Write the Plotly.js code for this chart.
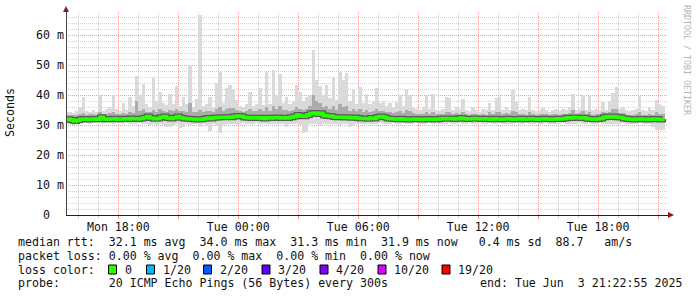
<!DOCTYPE html>
<html><head><meta charset="utf-8">
<script src="https://cdn.plot.ly/plotly-3.0.1.min.js"></script>
<style>html,body{margin:0;padding:0;background:#fff;}#chart{width:697px;height:297px;}</style>
</head><body><div id="chart"></div>
<script>
// sampling: every 10 minutes from Mon 15:25
const startTime = [2025, 5, 2, 15, 25];
const stepMinutes = 10;

const medianRtt = [
31.9,31.7,31.3,31.6,31.9,32.0,31.8,31.9,32.0,31.9,
32.6,32.0,31.9,32.0,32.1,31.9,32.0,32.1,32.0,32.2,
32.1,32.0,32.2,32.4,32.8,32.3,32.1,32.2,32.6,32.8,
32.3,32.2,32.4,32.8,32.4,32.2,32.1,32.0,31.9,31.8,
31.9,32.1,32.3,32.2,32.4,32.5,32.6,32.6,32.7,32.6,
32.8,33.0,32.9,32.5,32.4,32.3,32.4,32.3,32.4,32.2,
32.4,32.3,32.4,32.5,32.3,32.4,32.3,32.6,32.8,33.3,
33.0,32.9,33.3,33.8,34.0,33.7,33.9,33.2,33.0,32.9,
32.7,32.6,32.6,32.5,32.6,32.4,32.5,32.3,32.2,32.2,
32.1,32.3,32.2,32.7,32.8,32.6,32.2,32.1,32.0,31.9,
32.1,31.9,31.8,31.9,32.0,31.9,31.8,31.9,32.0,31.9,
31.8,31.9,32.1,32.2,32.1,32.2,32.0,32.1,32.3,32.1,
32.0,32.1,32.2,32.1,32.0,32.1,32.0,31.9,32.1,32.0,
31.9,32.0,32.1,32.0,31.9,32.0,32.1,31.9,32.0,32.1,
32.0,31.9,32.0,32.1,32.0,31.9,32.0,32.1,32.0,32.2,
32.4,32.3,32.5,32.4,32.3,32.4,32.1,32.0,31.9,32.0,
32.2,32.6,32.8,32.7,32.8,32.6,32.5,32.2,32.0,31.9,
31.8,31.9,32.0,31.9,31.8,31.9,32.0,31.9,31.8,31.9];

const maxRtt = [
34.2,34.5,34.0,34.8,36.0,39.3,34.6,34.2,35.0,34.5,
40.0,34.8,35.2,36.0,40.0,35.5,34.6,37.4,35.0,39.4,
36.5,46.5,40.0,43.6,37.0,36.0,45.9,38.0,41.1,37.5,
36.8,40.5,37.0,43.0,36.5,39.4,37.0,50.0,36.0,38.6,
66.7,36.5,37.0,39.4,36.0,44.0,47.8,37.5,42.3,43.3,
42.0,38.3,36.5,36.0,37.0,41.1,36.5,37.0,42.3,36.8,
47.8,37.0,48.3,40.0,47.0,37.5,39.4,37.0,38.0,43.3,
41.1,38.0,39.4,40.0,55.0,45.0,43.0,40.0,43.3,39.0,
45.9,38.5,47.8,45.0,47.2,38.0,41.7,37.0,42.7,37.5,
40.3,37.0,38.0,42.2,37.5,38.0,36.5,37.5,36.0,37.8,
40.0,36.5,41.9,40.0,36.1,35.5,35.0,36.0,40.0,35.5,
40.3,35.0,34.8,35.5,39.2,38.9,35.0,36.1,35.2,38.6,
35.0,34.6,36.0,35.0,34.5,35.2,35.0,37.3,35.0,38.9,
39.2,35.0,36.0,35.0,41.7,37.8,35.0,35.5,35.0,39.2,
35.0,34.6,35.0,35.7,35.0,34.5,35.0,35.3,34.8,35.5,
35.0,36.0,40.3,35.0,35.5,40.0,35.0,39.7,35.0,35.5,
35.0,37.8,35.0,38.0,40.8,42.6,35.5,36.0,35.0,34.6,
35.0,35.3,39.6,35.0,34.8,36.0,35.0,38.3,37.0,36.5];

const minRtt = [
30.8,30.3,30.0,30.5,30.8,30.6,30.7,30.5,30.8,30.6,
30.7,30.5,30.8,30.6,30.4,30.7,30.6,30.5,30.7,30.3,
30.5,30.2,30.6,30.4,30.5,30.0,30.3,30.1,30.4,30.0,
29.4,29.5,29.8,30.2,28.9,29.2,30.3,30.0,30.5,30.2,
29.4,30.3,30.0,28.1,30.2,29.8,27.3,30.0,30.3,30.5,
30.4,30.3,30.5,30.6,30.4,30.5,30.3,30.6,30.4,30.5,
30.4,30.2,30.5,30.3,30.4,30.2,29.4,30.3,30.5,30.2,
30.0,27.3,27.8,30.2,30.5,30.3,30.0,30.4,30.5,30.3,
30.2,30.4,30.0,30.3,30.5,29.4,29.6,30.3,30.5,30.4,
30.3,30.5,30.4,30.2,30.6,30.4,30.5,30.3,30.6,30.4,
30.5,30.6,30.3,30.5,30.4,30.6,30.5,30.3,30.5,30.6,
30.4,30.6,30.5,30.3,30.5,30.6,30.4,30.5,30.6,30.4,
30.5,30.6,30.4,30.5,30.6,30.3,30.5,30.6,30.4,30.5,
30.6,30.4,30.5,30.3,30.5,30.6,30.4,30.5,30.6,30.4,
30.5,30.6,30.4,30.5,30.6,30.4,30.5,30.3,30.5,30.6,
30.4,30.5,30.3,30.5,30.6,30.4,30.5,30.6,30.4,30.5,
30.6,30.3,30.5,30.4,30.2,30.4,30.5,30.6,30.4,30.5,
30.5,30.4,30.6,30.3,30.5,30.2,29.5,28.3,28.3,28.5];

const upperRtt = [
33.5,33.4,33.2,33.5,33.6,34.0,33.5,33.6,33.8,33.5,
34.5,33.6,33.7,34.0,34.2,33.8,33.6,34.0,33.8,34.3,
34.0,38.0,34.8,35.5,34.5,34.2,35.0,34.5,35.2,34.8,
34.5,35.0,34.6,35.5,34.6,34.8,34.5,37.3,34.2,34.5,
35.0,34.3,34.6,34.8,34.5,35.5,36.0,34.8,35.5,35.8,
35.6,35.0,34.8,34.5,34.8,35.2,34.6,34.8,35.5,34.7,
36.0,34.8,36.5,35.3,36.2,34.9,35.0,34.8,35.0,36.0,
35.5,35.0,35.5,36.5,40.0,38.0,37.5,36.0,36.5,35.3,
36.5,35.0,37.0,36.0,36.5,34.8,35.5,34.6,35.2,34.5,
35.0,34.5,34.6,35.5,34.8,34.6,34.2,34.4,34.0,34.3,
34.8,34.0,35.0,34.6,34.0,33.8,33.6,33.8,34.4,33.7,
34.5,33.6,33.6,33.8,34.4,34.2,33.6,33.9,33.6,34.2,
33.6,33.5,33.8,33.6,33.4,33.6,33.5,34.2,33.6,34.3,
34.4,33.6,33.9,33.6,34.8,34.2,33.6,33.8,33.5,34.3,
33.6,33.4,33.6,33.8,33.6,33.4,33.6,33.7,33.5,33.8,
33.8,34.0,35.0,33.8,34.0,34.8,33.6,34.5,33.5,33.8,
33.8,34.5,34.0,34.5,35.2,35.5,34.0,33.9,33.5,33.4,
33.5,33.6,34.4,33.5,33.4,33.8,33.5,34.2,33.8,33.6];

const xTickVals = ['2025-06-02 18:00','2025-06-02 21:00','2025-06-03 00:00','2025-06-03 03:00','2025-06-03 06:00',
  '2025-06-03 09:00','2025-06-03 12:00','2025-06-03 15:00','2025-06-03 18:00','2025-06-03 21:00'];
const xTickText = ['Mon 18:00','','Tue 00:00','','Tue 06:00','','Tue 12:00','','Tue 18:00',''];
const yTickVals = [0,10,20,30,40,50,60];
const yTickText = ['0  ','10 m','20 m','30 m','40 m','50 m','60 m'];

const lossLabels = ['0','1/20','2/20','3/20','4/20','10/20','19/20'];
const lossColors = ['#26ff00','#00b8ff','#0059ff','#5e00ff','#7e00ff','#dd00ff','#ff0000'];

const statLines = [
  'median rtt:  32.1 ms avg  34.0 ms max  31.3 ms min  31.9 ms now   0.4 ms sd  88.7   am/s',
  'packet loss: 0.00 % avg  0.00 % max  0.00 % min  0.00 % now',
  'loss color:',
  'probe:       20 ICMP Echo Pings (56 Bytes) every 300s'
];
const endText = 'end: Tue Jun  3 21:22:55 2025';

// ---- build ----
const t0 = Date.UTC(startTime[0], startTime[1], startTime[2], startTime[3], startTime[4]);
const times = medianRtt.map((_, k) => new Date(t0 + k * stepMinutes * 60000).toISOString().slice(0, 19));

const nb = s => s.replace(/ /g, '\u00a0');
const L = 66, R = 668, T = 12, B = 215;
const px = x => (x - L) / (R - L);
const py = y => (B - y) / (B - T);
const mono = 'DejaVu Sans Mono';

const traces = [
  { type: 'bar', x: times, base: minRtt, y: maxRtt.map((v, i) => v - minRtt[i]),
    width: stepMinutes * 60000, marker: { color: '#dadada', line: { width: 0 } }, hoverinfo: 'skip' },
  { type: 'bar', x: times, base: medianRtt, y: upperRtt.map((v, i) => v - medianRtt[i]),
    width: stepMinutes * 60000, marker: { color: '#ababab', line: { width: 0 } }, hoverinfo: 'skip' },
  { type: 'scatter', mode: 'lines', x: times, y: medianRtt, line: { color: '#5a5a5a', width: 6, shape: 'hv' }, hoverinfo: 'skip' },
  { type: 'scatter', mode: 'lines', x: times, y: medianRtt, line: { color: '#1a1a1a', width: 1, shape: 'hv' }, hoverinfo: 'skip' },
  { type: 'scatter', mode: 'lines', x: times, y: medianRtt, line: { color: lossColors[0], width: 3.5, shape: 'hv' }, hoverinfo: 'skip' }
];

const annotations = [];
// y tick labels, placed on the y scale
yTickVals.forEach((v, i) => annotations.push({
  xref: 'paper', yref: 'y', x: px(65), y: v, xanchor: 'right', yanchor: 'middle', borderpad: 0,
  text: nb(yTickText[i]), showarrow: false, font: { family: mono, size: 11.6, color: '#111' }
}));

const rowY = [241.7, 255.5, 269.5, 283.3];
statLines.forEach((s, i) => annotations.push({
  xref: 'paper', yref: 'paper', x: px(16), y: py(rowY[i]), xanchor: 'left', yanchor: 'middle',
  text: nb(s), showarrow: false, font: { family: mono, size: 11.6, color: '#111' }
}));
annotations.push({ xref: 'paper', yref: 'paper', x: px(478), y: py(rowY[3]), xanchor: 'left', yanchor: 'middle',
  text: nb(endText), showarrow: false, font: { family: mono, size: 11.6, color: '#111' } });

const boxX = [108.5, 146.5, 203.5, 262, 320, 378, 442];
const shapes = [];
lossLabels.forEach((lab, i) => {
  shapes.push({ type: 'rect', xref: 'paper', yref: 'paper', x0: px(boxX[i]), x1: px(boxX[i] + 8),
    y0: py(rowY[2] + 4.5), y1: py(rowY[2] - 4.5), fillcolor: lossColors[i], line: { color: '#000', width: 1 } });
  annotations.push({ xref: 'paper', yref: 'paper', x: px(boxX[i] + 14), y: py(rowY[2]), xanchor: 'left', yanchor: 'middle',
    text: nb(lab), showarrow: false, font: { family: mono, size: 11.6, color: '#111' } });
});

annotations.push({ xref: 'paper', yref: 'paper', x: px(10), y: py(113), xanchor: 'center', yanchor: 'middle',
  text: 'Seconds', textangle: -90, showarrow: false, font: { family: mono, size: 11.6, color: '#111' } });
annotations.push({ xref: 'paper', yref: 'paper', x: px(687), y: py(60), xanchor: 'center', yanchor: 'middle',
  text: nb('RRDTOOL / TOBI OETIKER'), textangle: 90, showarrow: false, font: { family: mono, size: 8.3, color: '#b4b4b4' } });

// axis arrows and y axis line
shapes.push({ type: 'path', xref: 'paper', yref: 'paper',
  path: `M ${px(63)} ${py(12)} L ${px(69)} ${py(12)} L ${px(66)} ${py(6)} Z`, fillcolor: '#8b1a1a', line: { width: 0 } });
shapes.push({ type: 'path', xref: 'paper', yref: 'paper',
  path: `M ${px(668)} ${py(212)} L ${px(668)} ${py(218)} L ${px(674)} ${py(215)} Z`, fillcolor: '#8b1a1a', line: { width: 0 } });
shapes.push({ type: 'line', xref: 'paper', yref: 'paper', x0: px(66.5), x1: px(66.5), y0: py(215), y1: py(9),
  line: { color: '#444', width: 1 } });

const majorGrid = '#eba3a3';
const minorGrid = '#d2d2d2';
const layout = {
  width: 697, height: 297,
  margin: { l: L, r: 697 - R, t: T, b: 297 - B, pad: 0 },
  paper_bgcolor: '#ffffff', plot_bgcolor: '#ffffff',
  showlegend: false, barmode: 'overlay', bargap: 0, hovermode: false,
  xaxis: {
    type: 'date', range: ['2025-06-02 15:22:55', '2025-06-03 21:29:55'],
    tickmode: 'array', tickvals: xTickVals, ticktext: xTickText,
    showgrid: true, gridcolor: majorGrid, griddash: '1px,1px', gridwidth: 1,
    showline: true, linecolor: '#222', linewidth: 1, zeroline: false,
    ticks: 'outside', ticklen: 3, tickcolor: '#e0a0a0', ticklabelstandoff: -2,
    tickfont: { family: mono, size: 11.6, color: '#111' },
    minor: { tickmode: 'linear', tick0: '2025-06-02 00:00:00', dtick: 3600000, showgrid: true,
      gridcolor: minorGrid, griddash: '1px,1px', gridwidth: 1, ticks: 'outside', ticklen: 2, tickcolor: '#c8c8c8' },
    fixedrange: true
  },
  yaxis: {
    range: [0, 67.67], tickmode: 'array', tickvals: yTickVals, showticklabels: false,
    showgrid: true, gridcolor: majorGrid, griddash: '1px,1px', gridwidth: 1,
    showline: false, zeroline: false, ticks: '',
    minor: { tickmode: 'linear', tick0: 0, dtick: 2, showgrid: true,
      gridcolor: minorGrid, griddash: '1px,1px', gridwidth: 1 },
    fixedrange: true
  },
  annotations: annotations,
  shapes: shapes
};

Plotly.newPlot('chart', traces, layout, { displayModeBar: false, staticPlot: true });
</script></body></html>
